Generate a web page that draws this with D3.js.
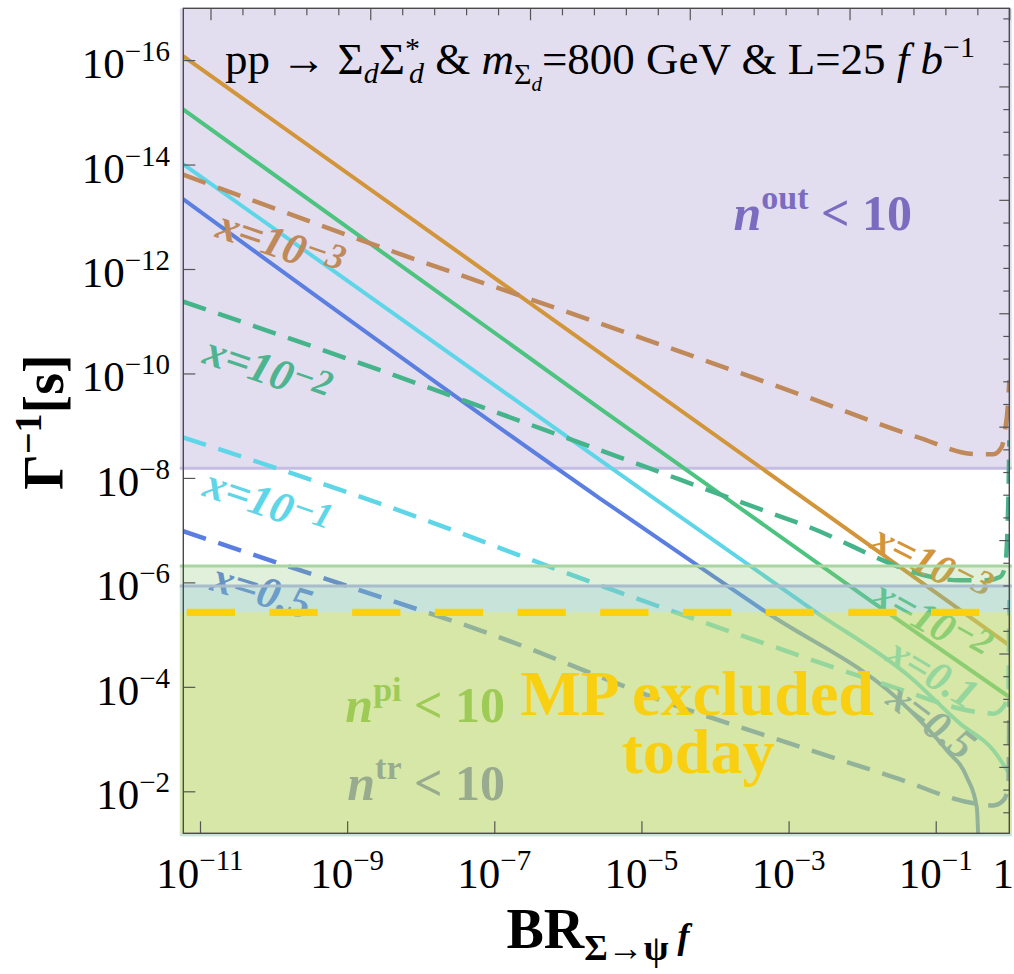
<!DOCTYPE html>
<html>
<head>
<meta charset="UTF-8">
<script src="https://cdn.jsdelivr.net/npm/d3@7"></script>
<style>
  body { margin: 0; background: #fff; }
  svg { display: block; font-family: "Liberation Serif", "Times New Roman", serif; }
</style>
</head>
<body>
<script>
// ---- data: [BR, 1/Gamma (s)] ----
const solidX1e3 = [[5.9e-12, 8.4e-17], [1.8e-7, 2.65e-12], [0.141, 2.2e-6], [1, 1.6e-5]];
const solidX1e2 = [[5.9e-12, 8.8e-16], [2.74e-6, 4.69e-10], [1.28e-2, 2.2e-6], [1, 1.57e-4]];
const solidX1e1 = [[5.9e-12, 9.8e-15], [2.74e-6, 4.58e-9], [2.17e-3, 3.42e-6], [4.48e-2, 6.47e-5],
                   [0.214, 5.06e-4], [0.607, 1.64e-3], [1, 4.6e-3]];
const solidX05  = [[5.9e-12, 4.6e-14], [2.74e-6, 2.48e-8], [4.54e-4, 3.42e-6], [4.48e-2, 2.83e-4],
                   [0.141, 1.64e-3], [0.264, 5.33e-3], [0.361, 2.0e-2], [0.387, 0.2]];

const dashX1e3 = [[5.9e-12, 1.56e-14], [2.8e-9, 3.77e-13], [2.74e-6, 1.1e-11], [1.77e-3, 2.81e-10],
                  [5.52e-2, 1.64e-9], [0.36, 3.52e-9], [0.607, 3.52e-9], [0.789, 2.55e-9],
                  [0.875, 1.22e-9], [0.962, 3.7e-10], [1, 1.35e-10]];
const dashX1e2 = [[5.9e-12, 4.2e-12], [2.8e-9, 8.67e-11], [2.74e-6, 2.95e-9], [1.43e-3, 7.48e-8],
                  [0.214, 9.12e-7], [0.493, 9.12e-7], [0.748, 7.88e-7], [0.875, 5.07e-7],
                  [0.97, 2.67e-8], [1, 1.9e-9]];
const dashX1e1 = [[5.9e-12, 1.68e-9], [2.8e-9, 3.1e-8], [2.74e-6, 1.14e-6], [4.09e-4, 1.38e-5],
                  [2.65e-2, 1.01e-4], [0.36, 3.03e-4], [0.607, 3.26e-4], [0.83, 2.43e-4],
                  [0.97, 1.35e-4], [1, 2.2e-6]];
const dashX05  = [[5.9e-12, 1.05e-7], [2.8e-9, 1.9e-6], [6.4e-8, 8.26e-6], [3.35e-5, 2.44e-4],
                  [4.09e-4, 7.87e-4], [2.65e-2, 5.33e-3], [0.36, 1.73e-2], [0.607, 1.86e-2],
                  [0.83, 1.49e-2], [0.97, 8.28e-3], [1, 1.81e-4]];

// limits of the shaded regions (1/Gamma in s)
const nOutLimit = 6.5e-9;
const nPiLimit = 4.85e-7;
const nTrLimit = 1.17e-6;
const mpLimit = 3.74e-6;

// ticks
const xTickExp = [-11, -9, -7, -5, -3, -1];
const yTickExp = [-16, -14, -12, -10, -8, -6, -4, -2];
const topTickK = d3.range(-25, 1);      // BR = e^k
const rightTickK = d3.range(17, 53);    // 1/Gamma = hbar * e^k  (GeV^-1 -> s)
const HBAR = 6.582e-25;

// ---- layout ----
const W = 1014, H = 974;
const x = d3.scaleLog().domain([5.93e-12, 1]).range([183.3, 1009.3]);
const y = d3.scaleLog().domain([1.02e-17, 0.0637]).range([8.3, 833.3]);
const [X0, X1] = x.range(), [Y0, Y1] = y.range();

const col = {
  orange: "#d3953a", green: "#4cc37f", cyan: "#5fd6e8", blue: "#5b7fe0",
  brownD: "#c0895a", greenD: "#45b48a"
};

const svg = d3.select("body").append("svg").attr("width", W).attr("height", H);
svg.append("defs").append("clipPath").attr("id", "plot")
  .append("rect").attr("x", X0).attr("y", Y0).attr("width", X1 - X0).attr("height", Y1 - Y0);

const bx0 = X0 - 3.5, bx1 = X1 + 2.5;

// n_out region sits under the curves
svg.append("rect").attr("x", bx0).attr("width", bx1 - bx0)
  .attr("y", Y0).attr("height", y(nOutLimit) - Y0)
  .attr("fill", "rgb(128,112,192)").attr("fill-opacity", 0.23);
svg.append("line").attr("x1", bx0).attr("x2", bx1).attr("y1", y(nOutLimit)).attr("y2", y(nOutLimit))
  .attr("stroke", "#c5bde3").attr("stroke-width", 3);

const line = d3.line().x(d => x(d[0])).y(d => y(d[1])).curve(d3.curveMonotoneX);

const curves = svg.append("g").attr("clip-path", "url(#plot)");

[[solidX1e3, col.orange], [solidX1e2, col.green], [solidX1e1, col.cyan], [solidX05, col.blue]]
  .forEach(([d, c]) => curves.append("path").datum(d).attr("d", line)
    .attr("fill", "none").attr("stroke", c).attr("stroke-width", 4));

[[dashX1e3, col.brownD], [dashX1e2, col.greenD], [dashX1e1, col.cyan], [dashX05, col.blue]]
  .forEach(([d, c]) => curves.append("path").datum(d).attr("d", line)
    .attr("fill", "none").attr("stroke", c).attr("stroke-width", 4.5)
    .attr("stroke-dasharray", "24,13"));

// helper for text with raised / lowered parts
function rich(t, parts) {
  let cur = 0;
  parts.forEach(p => {
    const s = p.s || 0;
    const ts = t.append("tspan").text(p.t);
    if (s !== cur) ts.attr("dy", s - cur);
    cur = s;
    if (p.fs) ts.attr("font-size", p.fs);
    if (p.it) ts.attr("font-style", "italic");
    if (p.dx) ts.attr("dx", p.dx);
  });
  return t;
}

// curve labels
function xLabel(bx, ty, ang, fs, c, parts) {
  const t = curves.append("text")
    .attr("transform", `translate(${x(bx)},${y(ty)}) rotate(${ang})`)
    .attr("text-anchor", "middle").attr("dy", "0.35em")
    .attr("font-size", fs).attr("font-weight", "bold").attr("font-style", "italic")
    .attr("fill", c);
  rich(t, parts);
}
const sup = v => ({t: v, s: -9, fs: 36});
xLabel(1.26e-10, 3.2e-13, 19, 44, col.brownD, [{t: "x=10"}, sup("−3")]);
xLabel(8.4e-11, 8.3e-11, 19, 44, "#4db48f", [{t: "x=10"}, sup("−2")]);
xLabel(8.4e-11, 2.9e-8, 19, 44, col.cyan, [{t: "x=10"}, sup("−1")]);
xLabel(7.0e-11, 1.4e-6, 17, 44, col.blue, [{t: "x=0.5"}]);
xLabel(8.9e-2, 4.3e-7, 27, 42, col.orange, [{t: "x=10"}, sup("−3")]);
xLabel(8.9e-2, 5.3e-6, 29, 42, col.green, [{t: "x=10"}, sup("−2")]);
xLabel(9.2e-2, 5.3e-5, 31, 42, col.cyan, [{t: "x=0.1"}]);
xLabel(8.9e-2, 4.4e-4, 37, 42, col.blue, [{t: "x=0.5"}]);

// lower shaded regions drawn over the curves
const shade = svg.append("g");
shade.append("rect").attr("x", bx0).attr("width", bx1 - bx0)
  .attr("y", y(nPiLimit)).attr("height", Y1 + 3 - y(nPiLimit))
  .attr("fill", "rgb(140,200,120)").attr("fill-opacity", 0.27);
shade.append("rect").attr("x", bx0).attr("width", bx1 - bx0)
  .attr("y", y(nTrLimit)).attr("height", Y1 + 3 - y(nTrLimit))
  .attr("fill", "rgb(120,190,220)").attr("fill-opacity", 0.23);
shade.append("rect").attr("x", bx0).attr("width", bx1 - bx0)
  .attr("y", y(mpLimit)).attr("height", Y1 - y(mpLimit))
  .attr("fill", "rgb(255,240,30)").attr("fill-opacity", 0.27);

[[nPiLimit, "#a9d5a0"], [nTrLimit, "#a8bccc"]].forEach(([v, c]) =>
  shade.append("line").attr("x1", bx0).attr("x2", bx1).attr("y1", y(v)).attr("y2", y(v))
    .attr("stroke", c).attr("stroke-width", 3));

shade.append("line").attr("x1", X0).attr("x2", X1).attr("y1", y(mpLimit)).attr("y2", y(mpLimit))
  .attr("stroke", "#fbd10a").attr("stroke-width", 7.3)
  .attr("stroke-dasharray", "48.3,34.4").attr("stroke-dashoffset", -3.4);

// region texts
const big = svg.append("g").attr("font-weight", "bold").attr("font-size", 50);
rich(big.append("text").attr("x", 912).attr("y", 230).attr("text-anchor", "end").attr("fill", "#7b6cc0"),
  [{t: "n", it: true}, {t: "out", s: -21, fs: 34}, {t: " < 10", s: 0}]);
rich(big.append("text").attr("x", 505).attr("y", 722).attr("text-anchor", "end").attr("fill", "#9dcb55"),
  [{t: "n", it: true}, {t: "pi", s: -21, fs: 34}, {t: " < 10", s: 0}]);
rich(big.append("text").attr("x", 505).attr("y", 800).attr("text-anchor", "end").attr("fill", "#99ab8f"),
  [{t: "n", it: true}, {t: "tr", s: -21, fs: 34}, {t: " < 10", s: 0}]);
const mp = big.append("text").attr("text-anchor", "middle").attr("font-size", 64).attr("fill", "#f9cf12");
mp.append("tspan").attr("x", 697).attr("y", 715).text("MP excluded");
mp.append("tspan").attr("x", 698).attr("y", 773).text("today");

// frame and ticks
const tickCol = "#555";
function styleAxis(g) {
  g.select(".domain").remove();
  g.selectAll(".tick line").attr("stroke", tickCol).attr("stroke-width", 1.2);
  g.selectAll(".tick text").remove();
}
const xTickVals = xTickExp.map(e => Math.pow(10, e));
const yTickVals = yTickExp.map(e => Math.pow(10, e));

svg.append("g").attr("transform", `translate(0,${Y1})`)
  .call(d3.axisBottom(x).tickValues(xTickVals).tickSizeInner(-12).tickSizeOuter(0)).call(styleAxis);
svg.append("g").attr("transform", `translate(${X0},0)`)
  .call(d3.axisLeft(y).tickValues(yTickVals).tickSizeInner(-12).tickSizeOuter(0)).call(styleAxis);
svg.append("g").attr("transform", `translate(0,${Y0})`)
  .call(d3.axisTop(x).tickValues(topTickK.filter(k => k % 5 === 0).map(Math.exp)).tickSizeInner(-12).tickSizeOuter(0)).call(styleAxis);
svg.append("g").attr("transform", `translate(0,${Y0})`)
  .call(d3.axisTop(x).tickValues(topTickK.filter(k => k % 5 !== 0).map(Math.exp)).tickSizeInner(-7).tickSizeOuter(0)).call(styleAxis);
svg.append("g").attr("transform", `translate(${X1},0)`)
  .call(d3.axisRight(y).tickValues(rightTickK.filter(k => k % 5 === 0).map(k => HBAR * Math.exp(k))).tickSizeInner(-10).tickSizeOuter(0)).call(styleAxis);
svg.append("g").attr("transform", `translate(${X1},0)`)
  .call(d3.axisRight(y).tickValues(rightTickK.filter(k => k % 5 !== 0).map(k => HBAR * Math.exp(k))).tickSizeInner(-6).tickSizeOuter(0)).call(styleAxis);

svg.append("rect").attr("x", X0).attr("y", Y0).attr("width", X1 - X0).attr("height", Y1 - Y0)
  .attr("fill", "none").attr("stroke", "#4a4a4a").attr("stroke-width", 1.4);

// tick labels
const tl = svg.append("g").attr("font-size", 43).attr("fill", "#000");
xTickExp.forEach(e => {
  const t = tl.append("text").attr("x", x(Math.pow(10, e))).attr("y", 888).attr("text-anchor", "middle");
  rich(t, [{t: "10"}, {t: "−" + Math.abs(e), s: -18, fs: 29}]);
});
tl.append("text").attr("x", 1014).attr("y", 888).attr("text-anchor", "end").text("1");
yTickExp.forEach(e => {
  const t = tl.append("text").attr("x", 170).attr("y", y(Math.pow(10, e)) + 18).attr("text-anchor", "end");
  rich(t, [{t: "10"}, {t: "−" + Math.abs(e), s: -17, fs: 29}]);
});

// axis titles
rich(svg.append("text").attr("transform", "translate(63,422) rotate(-90)")
    .attr("text-anchor", "middle").attr("font-size", 56).attr("font-weight", "bold"),
  [{t: "Γ"}, {t: "−1", s: -22, fs: 38}, {t: "[s]", s: 0}]);
rich(svg.append("text").attr("x", 598).attr("y", 948)
    .attr("text-anchor", "middle").attr("font-size", 56).attr("font-weight", "bold"),
  [{t: "BR"}, {t: "Σ→ψ", s: 12, fs: 36}, {t: " f", fs: 36, it: true}]);

// title
rich(svg.append("text").attr("x", 225).attr("y", 74).attr("font-size", 45),
  [{t: "pp → Σ"}, {t: "d", s: 9, fs: 30, it: true}, {t: "Σ", s: 0},
   {t: "*", s: -16, fs: 30}, {t: "d", s: 9, fs: 30, it: true, dx: -11},
   {t: " & ", s: 0}, {t: "m", it: true}, {t: "Σ", s: 10, fs: 30}, {t: "d", s: 17, fs: 21, it: true},
   {t: "=800 GeV & L=25 ", s: 0}, {t: "f b", it: true}, {t: "−1", s: -17, fs: 30}]);
</script>
</body>
</html>
